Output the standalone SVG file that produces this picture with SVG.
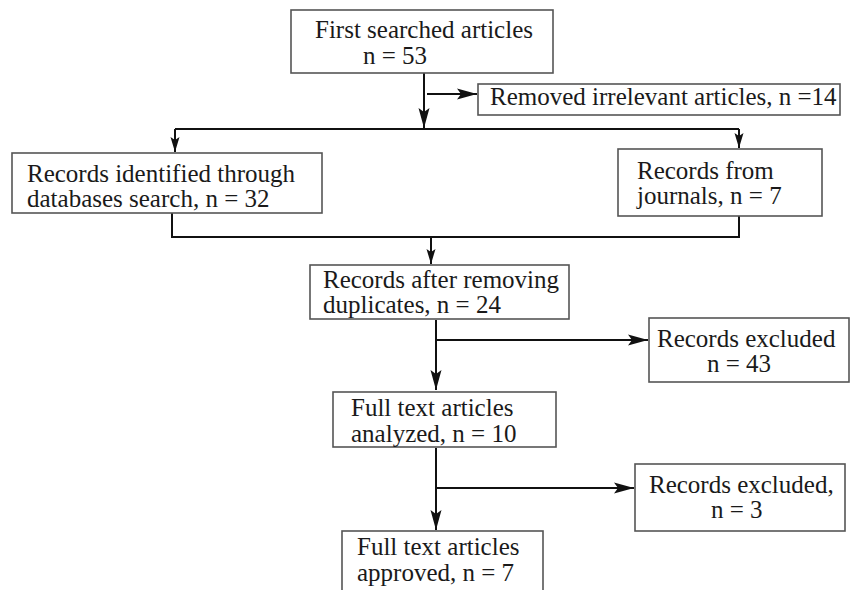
<svg xmlns="http://www.w3.org/2000/svg" width="851" height="590" viewBox="0 0 851 590">
<defs>
<style>
.box{fill:#fff;stroke:#555;stroke-width:1.6}
.t{font-family:"Liberation Serif","Times New Roman",serif;font-size:25px;fill:#1a1a1a}
.c{fill:none;stroke:#111;stroke-width:2}
</style>
<marker id="ah" markerUnits="userSpaceOnUse" markerWidth="22" markerHeight="14" refX="20" refY="7" orient="auto">
<path d="M0,1.5 L20,7 L0,12.5 L4,7 z" fill="#111"/>
</marker>
<marker id="as" markerUnits="userSpaceOnUse" markerWidth="16" markerHeight="12" refX="15" refY="6" orient="auto">
<path d="M0,1.5 L15,6 L0,10.5 L3,6 z" fill="#111"/>
</marker>
</defs>
<rect width="851" height="590" fill="#fff"/>
<g id="connectors">
<path class="c" d="M424,73 V128" marker-end="url(#ah)"/>
<path class="c" d="M427,94 H477" marker-end="url(#ah)"/>
<path class="c" d="M175,129 H739" />
<path class="c" d="M175,129 V152" marker-end="url(#as)"/>
<path class="c" d="M739,129 V148" marker-end="url(#as)"/>
<path class="c" d="M172,213 V237 H739 V216"/>
<path class="c" d="M431,238 V264" marker-end="url(#as)"/>
<path class="c" d="M436,320 V390" marker-end="url(#ah)"/>
<path class="c" d="M437,340 H648" marker-end="url(#ah)"/>
<path class="c" d="M436,448 V530" marker-end="url(#ah)"/>
<path class="c" d="M437,488 H634" marker-end="url(#ah)"/>
</g>
<g id="n1"><rect class="box" x="291" y="10" width="262" height="63"/><text class="t" x="315" y="38">First searched articles</text><text class="t" x="363" y="64">n = 53</text></g>
<g id="n2"><rect class="box" x="478" y="84" width="362" height="31"/><text class="t" x="490" y="105">Removed irrelevant articles, n =14</text></g>
<g id="n3"><rect class="box" x="12" y="153" width="310" height="60"/><text class="t" x="27" y="182">Records identified through</text><text class="t" x="27" y="207">databases search, n = 32</text></g>
<g id="n4"><rect class="box" x="618" y="149" width="204" height="67"/><text class="t" x="637" y="179">Records from</text><text class="t" x="637" y="204">journals, n = 7</text></g>
<g id="n5"><rect class="box" x="310" y="265" width="259" height="54"/><text class="t" x="323" y="288">Records after removing</text><text class="t" x="323" y="313">duplicates, n = 24</text></g>
<g id="n6"><rect class="box" x="649" y="318" width="200" height="64"/><text class="t" x="657" y="347">Records excluded</text><text class="t" x="707" y="372">n = 43</text></g>
<g id="n7"><rect class="box" x="333" y="392" width="223" height="55"/><text class="t" x="351" y="416">Full text articles</text><text class="t" x="351" y="442">analyzed, n = 10</text></g>
<g id="n8"><rect class="box" x="635" y="464" width="210" height="67"/><text class="t" x="649" y="493">Records excluded,</text><text class="t" x="711" y="518">n = 3</text></g>
<g id="n9"><rect class="box" x="342" y="531" width="201" height="70"/><text class="t" x="357" y="555">Full text articles</text><text class="t" x="357" y="581">approved, n = 7</text></g>
</svg>
